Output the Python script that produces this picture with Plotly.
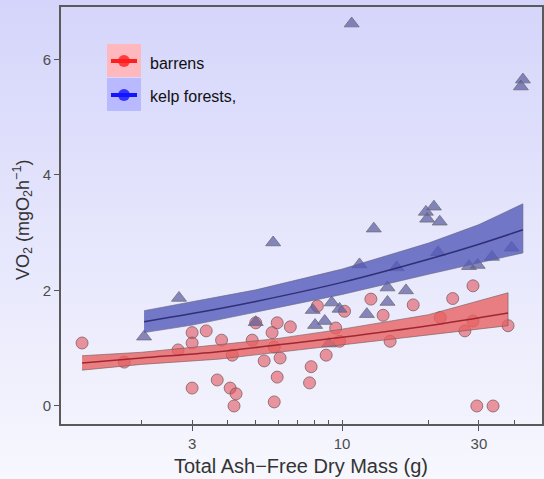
import plotly.graph_objects as go

# ---------------- data ----------------
barrens_x = [1.24, 1.74, 2.68, 3.0, 3.0, 3.0, 3.36, 3.67, 3.8, 4.07, 4.14, 4.2, 4.27, 4.86,
             5.0, 5.35, 5.7, 5.8, 5.8, 5.94, 5.94, 6.08, 6.6, 7.7, 7.8, 8.2, 8.8, 9.5, 9.8,
             10.2, 12.6, 13.9, 14.7, 17.7, 22.0, 24.3, 26.8, 28.6, 28.6, 29.5, 33.6, 37.9]
barrens_y = [1.09, 0.76, 0.97, 1.27, 1.09, 0.31, 1.30, 0.45, 1.14, 0.31, 0.88, 0.0, 0.21, 1.14,
             1.44, 0.78, 1.27, 1.02, 0.07, 1.44, 0.50, 0.83, 1.37, 0.40, 0.68, 1.73, 0.88, 1.35, 1.12,
             1.64, 1.85, 1.57, 1.12, 1.75, 1.53, 1.86, 1.30, 2.08, 1.47, 0.0, 0.0, 1.39]

kelp_x = [2.04, 2.7, 5.0, 5.75, 7.9, 8.05, 8.7, 9.0, 9.2, 9.8, 10.8, 11.5, 12.2, 12.9, 14.4,
          14.4, 15.5, 16.7, 19.6, 19.8, 20.9, 21.6, 21.9, 27.7, 29.7, 33.3, 39.0, 42.0, 42.7]
kelp_y = [1.20, 1.87, 1.45, 2.83, 1.66, 1.40, 1.47, 1.08, 1.79, 1.68, 6.62, 2.45, 1.59, 3.07, 2.05,
          1.80, 2.40, 2.00, 3.36, 3.24, 3.45, 2.66, 3.19, 2.42, 2.44, 2.58, 2.74, 5.53, 5.65]

# fitted curves and confidence bands
bar_fit_x = [1.24, 2.0, 3.7, 6.0, 10.0, 20.0, 37.9]
bar_fit_y = [0.745, 0.83, 0.94, 1.06, 1.19, 1.39, 1.61]
bar_lo = [0.62, 0.72, 0.81, 0.93, 1.06, 1.23, 1.39]
bar_hi = [0.87, 0.93, 1.06, 1.17, 1.33, 1.58, 1.96]

kelp_fit_x = [2.04, 3.0, 5.0, 10.0, 20.0, 30.0, 42.7]
kelp_fit_y = [1.46, 1.60, 1.81, 2.14, 2.54, 2.80, 3.05]
kelp_lo = [1.27, 1.40, 1.62, 1.93, 2.28, 2.48, 2.65]
kelp_hi = [1.65, 1.81, 2.01, 2.37, 2.82, 3.14, 3.50]

x_tickvals = [3, 10, 30]
x_minor = [2, 3, 4, 5, 6, 7, 8, 9, 10, 20, 30, 40]
y_tickvals = [0, 2, 4, 6]
legend_labels = ["barrens", "kelp forests,"]

W, H = 544, 479
FONT = "Liberation Sans, Arial, sans-serif"

def px(x):
    return x / W

def py(y):
    return 1 - y / H

fig = go.Figure()

# points
fig.add_trace(go.Scatter(
    x=barrens_x, y=barrens_y, mode="markers", showlegend=False,
    marker=dict(symbol="circle", size=12, color="rgba(225,70,80,0.55)",
                line=dict(color="rgba(120,90,90,0.75)", width=1))))
fig.add_trace(go.Scatter(
    x=kelp_x, y=kelp_y, mode="markers", showlegend=False,
    marker=dict(symbol="triangle-up", size=13, color="rgba(90,90,160,0.7)",
                line=dict(color="rgba(110,110,120,0.8)", width=1))))

# bands
fig.add_trace(go.Scatter(
    x=bar_fit_x + bar_fit_x[::-1], y=bar_hi + bar_lo[::-1], mode="lines", fill="toself",
    fillcolor="rgba(232,95,95,0.78)", line=dict(color="rgba(110,90,90,0.6)", width=1),
    showlegend=False, hoverinfo="skip"))
fig.add_trace(go.Scatter(
    x=bar_fit_x, y=bar_fit_y, mode="lines", line=dict(color="rgba(150,30,40,0.9)", width=1.5, shape="spline"),
    showlegend=False))
fig.add_trace(go.Scatter(
    x=kelp_fit_x + kelp_fit_x[::-1], y=kelp_hi + kelp_lo[::-1], mode="lines", fill="toself",
    fillcolor="rgba(85,90,185,0.8)", line=dict(color="rgba(100,100,120,0.6)", width=1),
    showlegend=False, hoverinfo="skip"))
fig.add_trace(go.Scatter(
    x=kelp_fit_x, y=kelp_fit_y, mode="lines", line=dict(color="rgba(40,40,110,0.9)", width=1.5, shape="spline"),
    showlegend=False))

shapes = []
# vertical gradient background
N = 60
top = (213, 213, 251)
bot = (247, 247, 254)
for i in range(N):
    t = i / (N - 1)
    c = tuple(int(round(top[k] + (bot[k] - top[k]) * t)) for k in range(3))
    shapes.append(dict(type="rect", xref="paper", yref="paper", x0=0, x1=1,
                       y0=1 - (i + 1) / N - 0.001, y1=1 - i / N,
                       fillcolor="rgb(%d,%d,%d)" % c, line=dict(width=0), layer="below"))

# manual legend
leg_cols = [("rgba(255,185,190,1)", "rgb(255,30,30)"), ("rgba(185,185,255,1)", "rgb(20,20,255)")]
for i, (bg, fg) in enumerate(leg_cols):
    y0 = 44 + i * 34
    yc = y0 + 17
    shapes.append(dict(type="rect", xref="paper", yref="paper", x0=px(107), x1=px(141),
                       y0=py(y0 + 33), y1=py(y0), fillcolor=bg, line=dict(width=0)))
    shapes.append(dict(type="line", xref="paper", yref="paper", x0=px(111), x1=px(137),
                       y0=py(yc), y1=py(yc), line=dict(color=fg, width=4)))
    shapes.append(dict(type="circle", xref="paper", yref="paper", x0=px(118), x1=px(130),
                       y0=py(yc + 6), y1=py(yc - 6), fillcolor=fg, line=dict(width=0),
                       opacity=0.8))

annotations = []
for i, lab in enumerate(legend_labels):
    annotations.append(dict(text=lab, xref="paper", yref="paper", x=px(148), y=py(63 + i * 34),
                            xanchor="left", yanchor="middle", showarrow=False,
                            font=dict(family=FONT, size=16, color="#111")))
annotations.append(dict(text="Total Ash\u2212Free Dry Mass (g)", xref="paper", yref="paper",
                        x=px(301), y=py(466), xanchor="center", yanchor="middle", showarrow=False,
                        font=dict(family=FONT, size=20, color="#333")))
annotations.append(dict(text="VO<sub>2</sub> (mgO<sub>2</sub>h<sup>\u22121</sup>)", xref="paper", yref="paper",
                        x=px(22), y=py(220), xanchor="center", yanchor="middle", showarrow=False,
                        textangle=-90, font=dict(family=FONT, size=18, color="#333")))

fig.update_layout(
    width=W, height=H, margin=dict(l=0, r=0, t=0, b=0),
    paper_bgcolor="rgb(230,230,252)", plot_bgcolor="rgba(0,0,0,0)",
    shapes=shapes, annotations=annotations, showlegend=False,
    xaxis=dict(type="log", domain=[61 / W, 542 / W], range=[0.02, 1.697],
               tickvals=x_tickvals, ticktext=[str(v) for v in x_tickvals],
               ticks="outside", ticklen=5, tickwidth=1.3, tickcolor="#555",
               showline=True, linecolor="#5a5a5a", linewidth=2, mirror=True,
               showgrid=False, zeroline=False,
               tickfont=dict(family=FONT, size=15, color="#4d4d4d"),
               minor=dict(tickvals=x_minor, ticks="inside", ticklen=4, tickcolor="#555",
                          tickwidth=1.2, showgrid=False)),
    yaxis=dict(domain=[1 - 424 / H, 1 - 7 / H], range=[-0.312, 6.907],
               tickvals=y_tickvals, ticks="outside", ticklen=5, tickwidth=1.3, tickcolor="#555",
               showline=True, linecolor="#5a5a5a", linewidth=2, mirror=True,
               showgrid=False, zeroline=False,
               tickfont=dict(family=FONT, size=15, color="#4d4d4d")),
)

fig.write_html("out.html")
